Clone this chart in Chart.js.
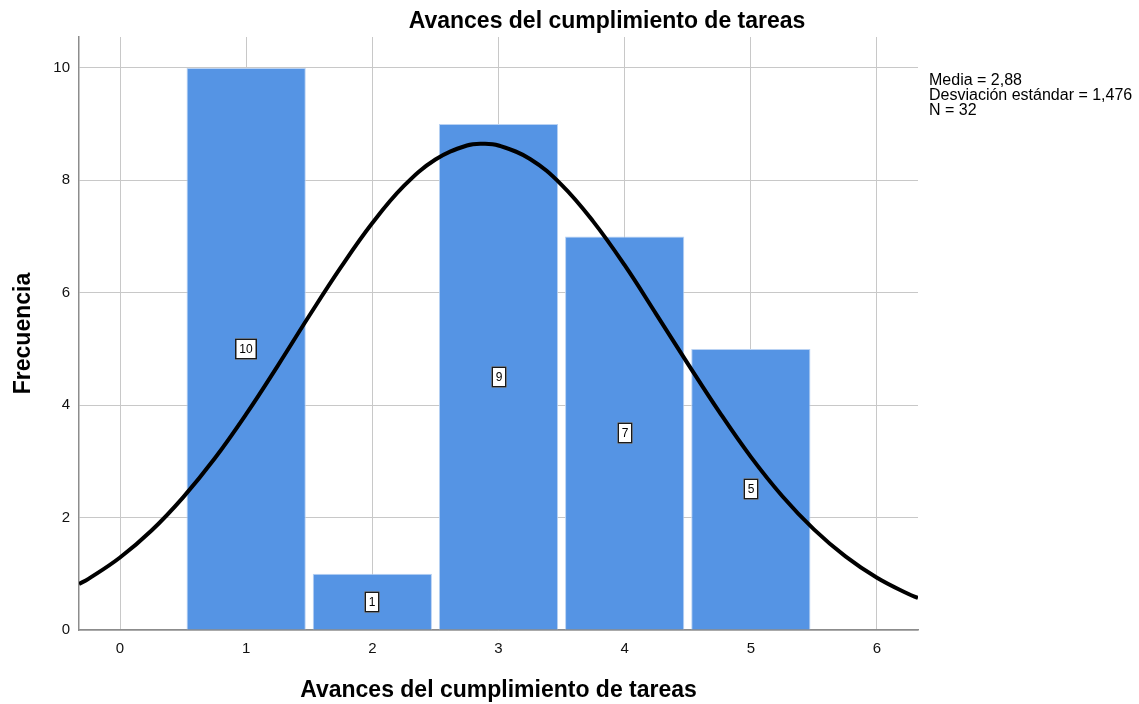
<!DOCTYPE html>
<html>
<head>
<meta charset="utf-8">
<title>Avances del cumplimiento de tareas</title>
<script src="https://cdn.jsdelivr.net/npm/chart.js@4/dist/chart.umd.min.js"></script>
<style>
    html, body { margin: 0; padding: 0; background: #fff; }
    #wrap { width: 1139px; height: 704px; }
</style>
</head>
<body>
<div id="wrap"><canvas id="chart" width="1139" height="704"></canvas></div>
<script>
// histogram data
const categories = [1, 2, 3, 4, 5];
const frequencies = [10, 1, 9, 7, 5];

// normal curve (Media 2,88 / Desv. 1,476 / N 32)
const curveX = [-0.325, -0.25, 0, 0.25, 0.5, 0.75, 1, 1.25, 1.5, 1.75, 2, 2.25, 2.5, 2.75, 2.88,
    3, 3.25, 3.5, 3.75, 4, 4.25, 4.5, 4.75, 5, 5.25, 5.5, 5.75, 6, 6.25, 6.325];
const curveY = [0.82, 0.91, 1.29, 1.77, 2.36, 3.05, 3.84, 4.70, 5.59, 6.45, 7.24, 7.90, 8.37, 8.62, 8.65,
    8.62, 8.38, 7.92, 7.27, 6.49, 5.62, 4.74, 3.88, 3.08, 2.38, 1.79, 1.31, 0.93, 0.64, 0.57];

const xTicks = [0, 1, 2, 3, 4, 5, 6];
const yTicks = [0, 2, 4, 6, 8, 10];

const title = 'Avances del cumplimiento de tareas';
const xTitle = 'Avances del cumplimiento de tareas';
const yTitle = 'Frecuencia';
const statsLines = ['Media = 2,88', 'Desviación estándar = 1,476', 'N = 32'];

const FONT = "'Liberation Sans', Arial, sans-serif";

// draws titles, stats text and the little value boxes in the bars
const extrasPlugin = {
    id: 'extras',
    afterDatasetsDraw(chart) {
        const ctx = chart.ctx;
        const area = chart.chartArea;
        const yScale = chart.scales.y;
        const meta = chart.getDatasetMeta(1);

        ctx.save();
        ctx.font = '12px ' + FONT;
        ctx.textAlign = 'center';
        ctx.textBaseline = 'middle';
        meta.data.forEach((bar, i) => {
            const v = frequencies[i];
            const txt = String(v);
            const cx = Math.round(bar.x);
            const cy = Math.round(yScale.getPixelForValue(v / 2));
            const w = Math.ceil(ctx.measureText(txt).width) + 8;
            const h = 21;
            ctx.fillStyle = '#ffffff';
            ctx.fillRect(cx - w / 2, cy - h / 2, w, h);
            ctx.strokeStyle = '#1a1a1a';
            ctx.lineWidth = 1.5;
            ctx.strokeRect(cx - w / 2 + 0.75, cy - h / 2 + 0.75, w - 1.5, h - 1.5);
            ctx.fillStyle = '#000000';
            ctx.fillText(txt, cx, cy + 1);
        });

        // chart title
        ctx.fillStyle = '#000000';
        ctx.font = 'bold 23px ' + FONT;
        ctx.textBaseline = 'alphabetic';
        ctx.fillText(title, 607, 28);

        // x axis title
        ctx.fillText(xTitle, (area.left + area.right) / 2, 697);

        // y axis title
        ctx.translate(30, (area.top + area.bottom) / 2);
        ctx.rotate(-Math.PI / 2);
        ctx.fillText(yTitle, 0, 0);
        ctx.setTransform(1, 0, 0, 1, 0, 0);

        // stats
        ctx.font = '16px ' + FONT;
        ctx.textAlign = 'left';
        statsLines.forEach((s, i) => {
            ctx.fillText(s, 929, 85 + i * 15);
        });
        ctx.restore();
    }
};

new Chart(document.getElementById('chart'), {
    type: 'bar',
    data: {
        datasets: [
            {
                type: 'line',
                data: curveX.map((x, i) => ({ x: x, y: curveY[i] })),
                borderColor: '#000000',
                borderWidth: 4,
                pointRadius: 0,
                tension: 0.4,
                fill: false,
                order: 0
            },
            {
                type: 'bar',
                data: categories.map((c, i) => ({ x: c, y: frequencies[i] })),
                backgroundColor: '#5594e4',
                borderColor: '#b9d2f3',
                borderWidth: 1,
                barPercentage: 0.945,
                categoryPercentage: 1,
                order: 1
            }
        ]
    },
    options: {
        responsive: false,
        animation: false,
        layout: {
            padding: { top: 37, right: 221, left: 0, bottom: 0 }
        },
        plugins: {
            legend: { display: false },
            tooltip: { enabled: false },
            title: { display: false }
        },
        scales: {
            x: {
                type: 'linear',
                offset: false,
                min: -0.325,
                max: 6.325,
                afterBuildTicks: (scale) => {
                    scale.ticks = xTicks.map(v => ({ value: v }));
                },
                afterFit: (scale) => { scale.height = 74; },
                ticks: {
                    color: '#111111',
                    font: { family: FONT, size: 15 },
                    padding: 10,
                    maxRotation: 0
                },
                grid: { color: '#c8c8c8', lineWidth: 1, drawTicks: false, offset: false },
                border: { color: '#8c8c8c', width: 1.5 }
            },
            y: {
                min: 0,
                max: 10.55,
                afterBuildTicks: (scale) => {
                    scale.ticks = yTicks.map(v => ({ value: v }));
                },
                afterFit: (scale) => { scale.width = 79; },
                ticks: {
                    color: '#111111',
                    font: { family: FONT, size: 15 },
                    padding: 9
                },
                grid: { color: '#c8c8c8', lineWidth: 1, drawTicks: false },
                border: { color: '#8c8c8c', width: 1.5 }
            }
        }
    },
    plugins: [extrasPlugin]
});
</script>
</body>
</html>
